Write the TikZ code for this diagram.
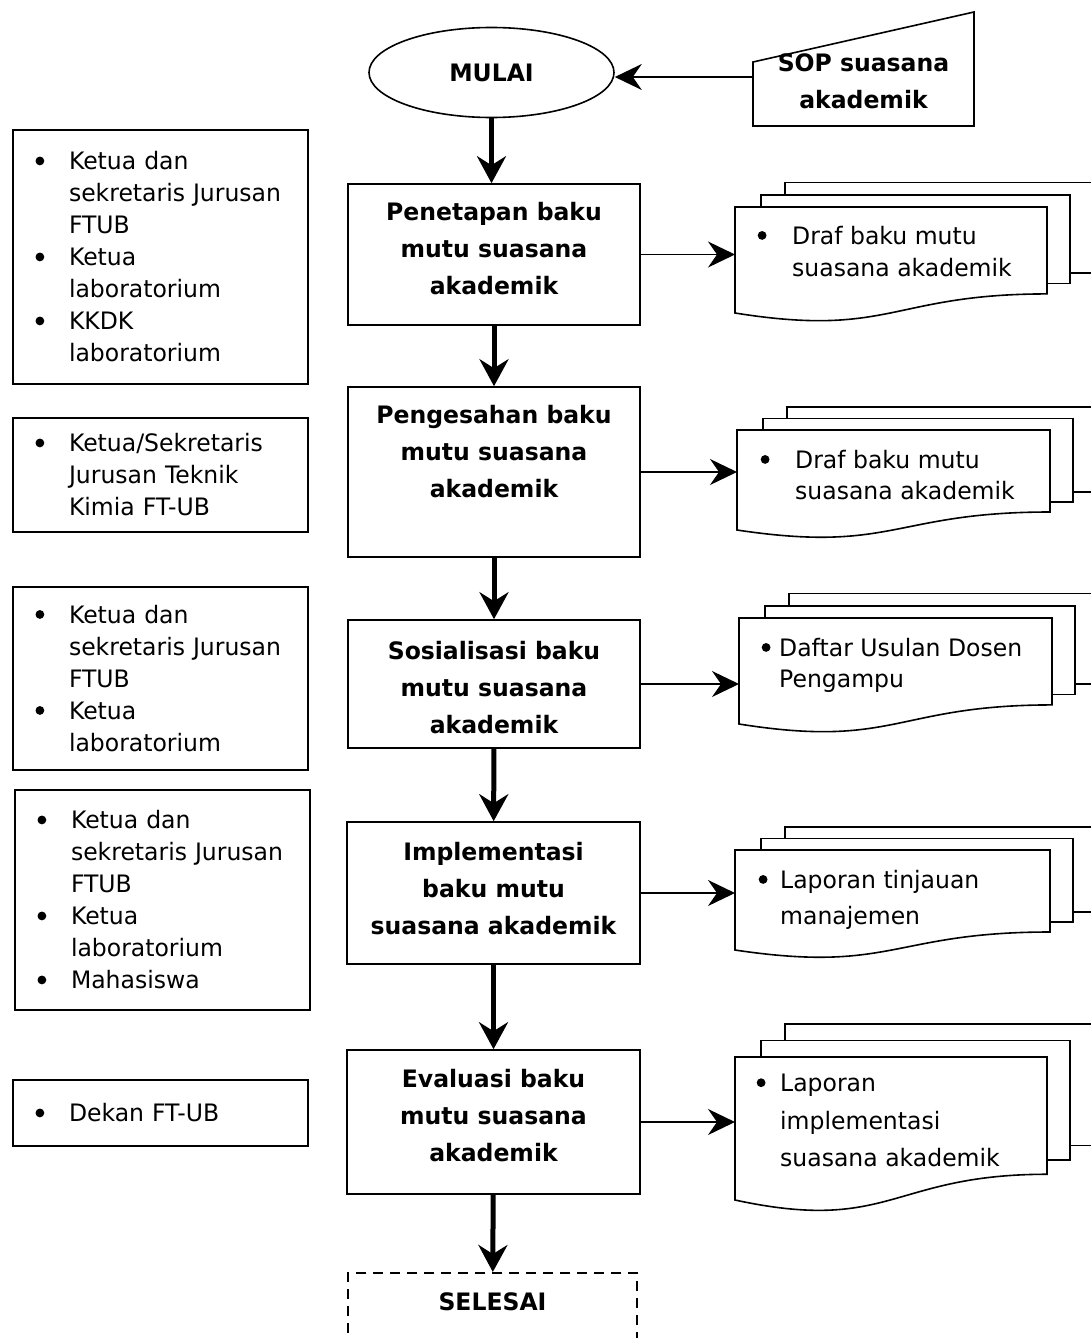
\documentclass[tikz,border=0pt]{standalone}
\usepackage{fontspec}
\setmainfont{DejaVu Sans}[FakeStretch=0.98]
\usetikzlibrary{arrows.meta,shapes.geometric}

% bullet of a given width, and the matching indent
\newcommand{\dotitem}[1]{\makebox[#1][l]{\tikz[baseline=-9pt]\fill (0,0) circle (4.4pt);}}
\newcommand{\itm}{\dotitem{33.5pt}}
\newcommand{\ind}{\hspace*{33.5pt}}

% stack of three sheets: left, top, right, bottom of the front sheet
\newcommand{\docstack}[4]{%
  \pgfmathsetmacro{\dh}{#4-#2}
  \pgfmathsetmacro{\rb}{#4-0.18*\dh}
  \pgfmathsetmacro{\sb}{\rb-0.1*\dh}
  \pgfmathsetmacro{\tb}{\sb-0.1*\dh}
  \pgfmathsetmacro{\mx}{(#1+#3)/2}
  \draw[sheet] (#1+50,#2-0.23*\dh) rectangle (#3+46,\tb);
  \draw[sheet] (#1+26,#2-0.115*\dh) rectangle (#3+23,\sb);
  \draw[sheet] (#1,#2) -- (#3,#2) -- (#3,\rb)
    .. controls (\mx,\rb) and (\mx,\rb+2.31*\dh*0.18) .. (#1,#4) -- cycle;
}

\begin{document}
\begin{tikzpicture}[x=1pt,y=-1pt,
    box/.style={draw, line width=1.6pt, inner sep=0pt},
    proc/.style={box, minimum width=292pt},
    who/.style={box, minimum width=295pt, text width=250pt, inner xsep=22.5pt,
      align=left, font=\fontsize{24}{32}\selectfont},
    bold/.style={font=\fontsize{24}{37}\selectfont\bfseries, align=center, inner sep=0pt},
    doctxt/.style={font=\fontsize{24}{#1}\selectfont, align=left, anchor=north west, inner sep=0pt},
    sheet/.style={line width=1.6pt, fill=white},
    flow/.style={-{Stealth[length=27pt,width=29pt,inset=9pt]}, line width=5pt},
    feed/.style={-{Stealth[length=27pt,width=26pt,inset=9pt]}, line width=1.3pt}]
  \useasboundingbox (0,0) rectangle (1091,1338);
  \clip (0,0) rectangle (1091,1338);

  % start and input
  \node[ellipse, draw, line width=1.6pt, minimum width=245pt, minimum height=90pt,
    font=\fontsize{24}{30}\selectfont\bfseries] (mulai) at (491.5,72.5) {MULAI};
  \draw[sheet] (753,62) -- (974,12) -- (974,126) -- (753,126) -- cycle;
  \node[bold] (sop) at (863.5,81.5) {SOP suasana\\akademik};
  \coordinate (sopw) at (753,77);

  % steps
  \node[proc, minimum height=141pt] (b1) at (494,254.5) {};
  \node[bold, anchor=north] (t1) at (494,202) {Penetapan baku\\mutu suasana\\akademik};
  \node[proc, minimum height=170pt] (b2) at (494,472) {};
  \node[bold, anchor=north] (t2) at (494,405) {Pengesahan baku\\mutu suasana\\akademik};
  \node[proc, minimum height=128pt] (b3) at (494,684) {};
  \node[bold, anchor=north] (t3) at (494,641) {Sosialisasi baku\\mutu suasana\\akademik};
  \node[proc, minimum width=293pt, minimum height=142pt] (b4) at (493.5,893) {};
  \node[bold, anchor=north] (t4) at (493.5,842) {Implementasi\\baku mutu\\suasana akademik};
  \node[proc, minimum width=293pt, minimum height=144pt] (b5) at (493.5,1122) {};
  \node[bold, anchor=north] (t5) at (493.5,1069) {Evaluasi baku\\mutu suasana\\akademik};
  \node[box, dash pattern=on 10pt off 7pt, minimum width=289pt, minimum height=120pt,
    anchor=north] (sel) at (492.5,1272) {};
  \node[bold] (t6) at (492.5,1302) {SELESAI};

  % who is involved
  \node[who, minimum height=254pt] (w1) at (160.5,257) {\itm Ketua dan\\\ind sekretaris Jurusan\\\ind FTUB\\\itm Ketua\\\ind laboratorium\\\itm KKDK\\\ind laboratorium};
  \node[who, minimum height=114pt] (w2) at (160.5,475) {\itm Ketua/Sekretaris\\\ind Jurusan Teknik\\\ind Kimia FT-UB};
  \node[who, minimum height=183pt] (w3) at (160.5,678.5) {\itm Ketua dan\\\ind sekretaris Jurusan\\\ind FTUB\\\itm Ketua\\\ind laboratorium};
  \node[who, minimum height=220pt] (w4) at (162.5,900) {\itm Ketua dan\\\ind sekretaris Jurusan\\\ind FTUB\\\itm Ketua\\\ind laboratorium\\\itm Mahasiswa};
  \node[who, minimum height=66pt] (w5) at (160.5,1113) {\itm Dekan FT-UB};

  % documents
  \docstack{735}{207}{1047}{313}
  \coordinate (d1) at (735,260);
  \node[doctxt=32] (r1) at (757.5,226) {\dotitem{34.5pt}Draf baku mutu\\\hspace*{34.5pt}suasana akademik};
  \docstack{737}{430}{1050}{530}
  \coordinate (d2) at (737,480);
  \node[doctxt=31] (r2) at (760.5,450) {\dotitem{34.5pt}Draf baku mutu\\\hspace*{34.5pt}suasana akademik};
  \docstack{739}{618}{1052}{724}
  \coordinate (d3) at (739,670);
  \node[doctxt=31] (r3) at (761.5,638) {\dotitem{17.5pt}Daftar Usulan Dosen\\\hspace*{17.5pt}Pengampu};
  \docstack{735}{850}{1050}{950}
  \coordinate (d4) at (735,900);
  \node[doctxt=36] (r4) at (758.5,870) {\dotitem{21.5pt}Laporan tinjauan\\\hspace*{21.5pt}manajemen};
  \docstack{735}{1057}{1047}{1200}
  \coordinate (d5) at (735,1128);
  \node[doctxt=37.5] (r5) at (756.5,1074) {\dotitem{23.5pt}Laporan\\\hspace*{23.5pt}implementasi\\\hspace*{23.5pt}suasana akademik};

  % connectors
  \draw[feed] (sopw) -- (sopw -| mulai.east);
  \draw[flow] (mulai.south) -- (mulai.south |- b1.north);
  \draw[flow] (b1) -- (b2);
  \draw[flow] (b2) -- (b3);
  \draw[flow] (b3) -- (b4);
  \draw[flow] (b4) -- (b5);
  \draw[flow] (b5) -- (sel);
  \draw[feed] (b1.east) -- (b1.east -| d1);
  \draw[feed] (b2.east) -- (b2.east -| d2);
  \draw[feed] (b3.east) -- (b3.east -| d3);
  \draw[feed] (b4.east) -- (b4.east -| d4);
  \draw[feed] (b5.east) -- (b5.east -| d5);
\end{tikzpicture}
\end{document}
